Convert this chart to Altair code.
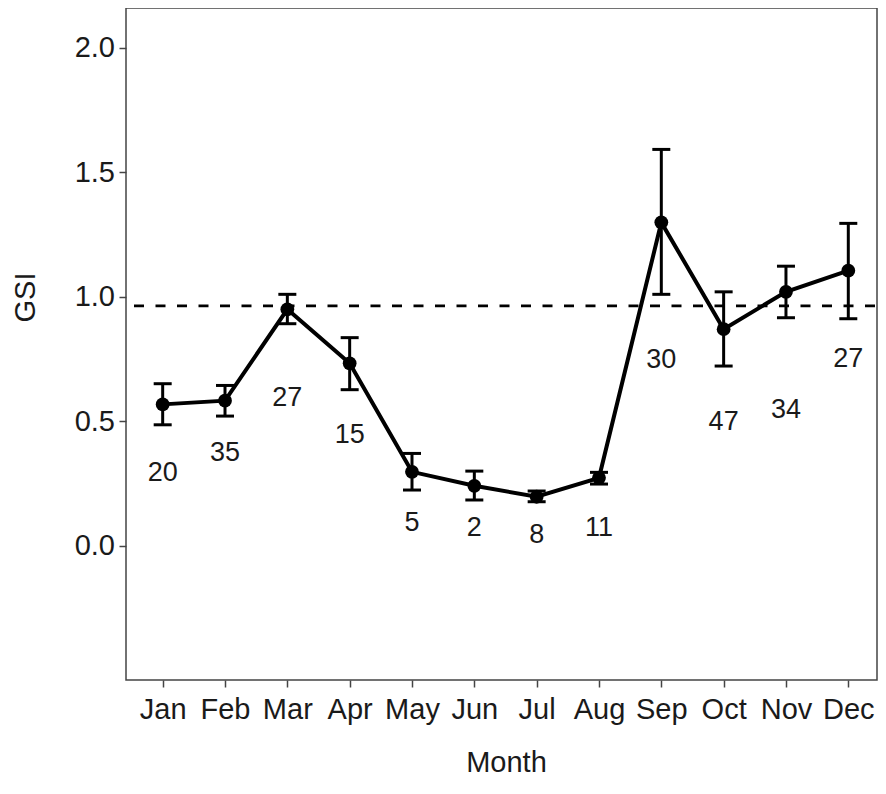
import altair as alt
import pandas as pd

months = ["Jan", "Feb", "Mar", "Apr", "May", "Jun", "Jul", "Aug", "Sep", "Oct", "Nov", "Dec"]
gsi_mean = [0.567, 0.582, 0.949, 0.732, 0.296, 0.240, 0.196, 0.272, 1.298, 0.869, 1.019, 1.104]
gsi_upper = [0.650, 0.643, 1.009, 0.835, 0.370, 0.299, 0.219, 0.294, 1.591, 1.019, 1.122, 1.294]
gsi_lower = [0.485, 0.520, 0.891, 0.626, 0.223, 0.183, 0.176, 0.247, 1.009, 0.721, 0.915, 0.911]
n_fish = [20, 35, 27, 15, 5, 2, 8, 11, 30, 47, 34, 27]
n_label_y = [0.290, 0.373, 0.591, 0.444, 0.089, 0.069, 0.042, 0.069, 0.745, 0.495, 0.544, 0.748]
ref_gsi = [0.963]
y_ticks = [0.0, 0.5, 1.0, 1.5, 2.0]

df = pd.DataFrame({
    "month": months,
    "gsi": gsi_mean,
    "upper": gsi_upper,
    "lower": gsi_lower,
    "n": [str(v) for v in n_fish],
    "label_y": n_label_y,
})
ref_df = pd.DataFrame({"ref": ref_gsi})

FONT = "Liberation Sans"
TXT = "#1a1a1a"

x_enc = alt.X(
    "month:N",
    sort=months,
    scale=alt.Scale(type="point", domain=months, padding=0.5245, align=0.561),
    axis=alt.Axis(
        title="Month", labelAngle=0, labelFontSize=29, labelFont=FONT, labelColor=TXT,
        labelBaseline="alphabetic", labelPadding=31, tickSize=7, tickWidth=1.5,
        tickColor="#444", domain=False, grid=False,
        titleFontSize=29, titleFont=FONT, titleFontWeight="normal", titleColor=TXT,
        titleX=380, titleY=91, titleBaseline="alphabetic", titleAlign="center",
    ),
)
y_scale = alt.Scale(domain=[-0.540, 2.159], nice=False, zero=False)
y_axis = alt.Axis(
    title="GSI", values=y_ticks, format=".1f", labelFontSize=29, labelFont=FONT,
    labelColor=TXT, labelPadding=4.5, tickSize=7, tickWidth=1.5, tickColor="#444",
    domain=False, grid=False, titleFontSize=29, titleFont=FONT, titleFontWeight="normal",
    titleColor=TXT, titleAngle=270, titleX=-91.5, titleY=289, titleAlign="center",
    titleBaseline="alphabetic",
)

base = alt.Chart(df)

ref_line = alt.Chart(ref_df).mark_rule(
    color="black", strokeWidth=2.8, strokeDash=[10, 11.5], strokeDashOffset=-2
).encode(y=alt.Y("ref:Q", scale=y_scale, axis=y_axis))

err = base.mark_rule(color="black", strokeWidth=3, opacity=1).encode(
    x=x_enc, y=alt.Y("lower:Q", scale=y_scale, axis=y_axis), y2="upper:Q"
)
cap_lo = base.mark_tick(color="black", size=18, thickness=3, opacity=1).encode(
    x=x_enc, y=alt.Y("lower:Q", scale=y_scale, axis=y_axis)
)
cap_hi = base.mark_tick(color="black", size=18, thickness=3, opacity=1).encode(
    x=x_enc, y=alt.Y("upper:Q", scale=y_scale, axis=y_axis)
)
line = base.mark_line(color="black", strokeWidth=4).encode(
    x=x_enc, y=alt.Y("gsi:Q", scale=y_scale, axis=y_axis)
)
pts = base.mark_circle(color="black", size=190, opacity=1).encode(
    x=x_enc, y=alt.Y("gsi:Q", scale=y_scale, axis=y_axis)
)
labels = base.mark_text(
    font=FONT, fontSize=27, color=TXT, align="center", baseline="middle"
).encode(
    x=x_enc, y=alt.Y("label_y:Q", scale=y_scale, axis=y_axis), text="n:N"
)

chart = alt.layer(ref_line, err, cap_lo, cap_hi, line, pts, labels).properties(
    width=751,
    height=672,
    autosize=alt.AutoSizeParams(type="none"),
    padding={"left": 118, "top": 0, "right": 1, "bottom": 106},
    background="white",
).configure_view(
    stroke="#444", strokeWidth=1.5
)

chart.save("out.html", embed_options={"renderer": "svg", "actions": False})
